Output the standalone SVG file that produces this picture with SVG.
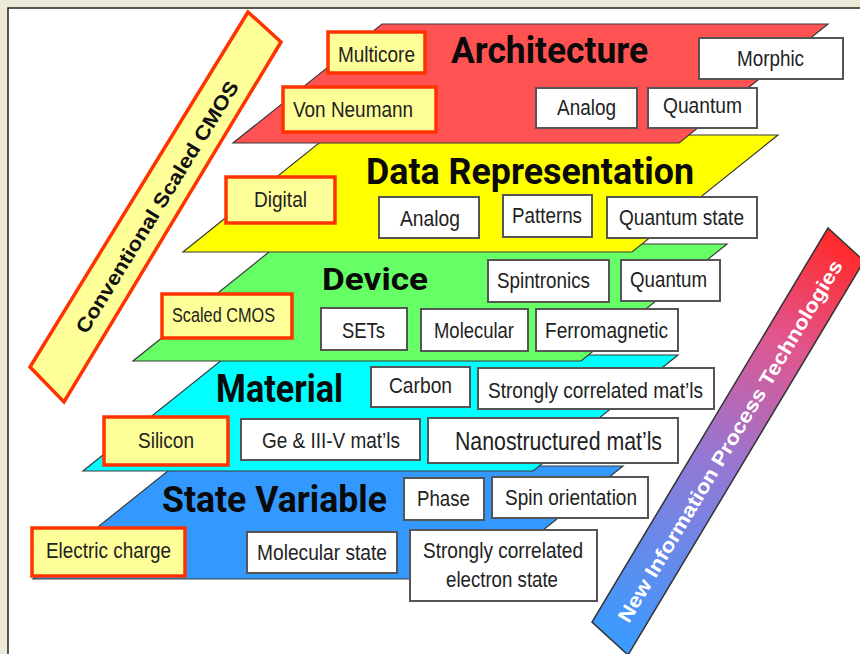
<svg xmlns="http://www.w3.org/2000/svg" width="860" height="654" viewBox="0 0 860 654">
<style>
.layer{stroke:#3a3a3a;stroke-width:1.2}
.title{font-family:Roboto,"Liberation Sans",sans-serif;font-weight:700;fill:#0a0a0a;font-size:36px}
.wbox{fill:#ffffff;stroke:#555555;stroke-width:2}
.ybox{fill:#ffff99;stroke:#ff3300;stroke-width:3.5}
.lbl{font-family:"Liberation Sans",Arial,sans-serif;font-size:22px;fill:#222222;text-anchor:middle}
.bar{font-family:"Liberation Sans",Arial,sans-serif;font-weight:700;font-size:20px;text-anchor:middle}
</style>
<defs>
<linearGradient id="gNew" gradientUnits="userSpaceOnUse" x1="610" y1="640" x2="846" y2="245">
<stop offset="0" stop-color="#3a9bff"/>
<stop offset="0.45" stop-color="#9478d4"/>
<stop offset="0.75" stop-color="#e0568f"/>
<stop offset="1" stop-color="#ff2a2a"/>
</linearGradient>
</defs>
<rect x="0" y="0" width="860" height="654" fill="#ece9d8"/>
<rect x="8" y="8" width="870" height="670" fill="#ffffff" stroke="#222222" stroke-width="1.5"/>

<g id="layers">
<polygon id="layer-state" class="layer" fill="#3399ff" points="174,466 623,466 482,579 33,579"/>
<polygon id="layer-material" class="layer" fill="#00ffff" points="228,355 678,355 533,471 83,471"/>
<polygon id="layer-device" class="layer" fill="#66ff66" points="279,244 727,244 581,361 133,361"/>
<polygon id="layer-data" class="layer" fill="#ffff00" points="329,135 778,135 632,252 183,252"/>
<polygon id="layer-arch" class="layer" fill="#ff5353" points="382,24 828,24 679,143 233,143"/>
</g>

<g id="titles">
<text class="title" x="451" y="63" textLength="197" lengthAdjust="spacingAndGlyphs">Architecture</text>
<text class="title" x="366" y="184" textLength="328" lengthAdjust="spacingAndGlyphs">Data Representation</text>
<text class="title" x="322" y="290" textLength="106" lengthAdjust="spacingAndGlyphs" style="font-size:32px">Device</text>
<text class="title" x="216" y="402" textLength="127" lengthAdjust="spacingAndGlyphs" style="font-size:38px">Material</text>
<text class="title" x="162" y="512" textLength="225" lengthAdjust="spacingAndGlyphs">State Variable</text>
</g>

<g id="connectors"></g>

<g id="multicore"><rect class="ybox" x="328" y="32" width="97" height="41"/><text class="lbl" x="376.5" y="62" textLength="77" lengthAdjust="spacingAndGlyphs">Multicore</text></g>
<g id="von-neumann"><rect class="ybox" x="283" y="87" width="153" height="45"/><text class="lbl" x="353" y="117" textLength="120" lengthAdjust="spacingAndGlyphs">Von Neumann</text></g>
<g id="morphic"><rect class="wbox" x="699" y="38" width="144" height="41"/><text class="lbl" x="770.5" y="66" textLength="67" lengthAdjust="spacingAndGlyphs">Morphic</text></g>
<g id="arch-analog"><rect class="wbox" x="536" y="88" width="101" height="40"/><text class="lbl" x="586.5" y="115" textLength="59" lengthAdjust="spacingAndGlyphs">Analog</text></g>
<g id="arch-quantum"><rect class="wbox" x="648" y="88" width="109" height="40"/><text class="lbl" x="702.5" y="113" textLength="79" lengthAdjust="spacingAndGlyphs">Quantum</text></g>

<g id="digital"><rect class="ybox" x="226" y="177" width="109" height="46"/><text class="lbl" x="280.5" y="207" textLength="53" lengthAdjust="spacingAndGlyphs">Digital</text></g>
<g id="data-analog"><rect class="wbox" x="379" y="197" width="100" height="41"/><text class="lbl" x="430" y="226" textLength="60" lengthAdjust="spacingAndGlyphs">Analog</text></g>
<g id="patterns"><rect class="wbox" x="503" y="195" width="89" height="42"/><text class="lbl" x="547" y="223" textLength="70" lengthAdjust="spacingAndGlyphs">Patterns</text></g>
<g id="quantum-state"><rect class="wbox" x="607" y="197" width="150" height="41"/><text class="lbl" x="681.5" y="225" textLength="125" lengthAdjust="spacingAndGlyphs">Quantum state</text></g>

<g id="scaled-cmos"><rect class="ybox" x="162" y="294" width="130" height="44"/><text class="lbl" x="223.5" y="322" textLength="103" lengthAdjust="spacingAndGlyphs" style="font-size:20px">Scaled CMOS</text></g>
<g id="sets"><rect class="wbox" x="321" y="308" width="86" height="42"/><text class="lbl" x="363.5" y="338" textLength="43" lengthAdjust="spacingAndGlyphs">SETs</text></g>
<g id="molecular"><rect class="wbox" x="421" y="309" width="107" height="42"/><text class="lbl" x="474" y="338" textLength="80" lengthAdjust="spacingAndGlyphs">Molecular</text></g>
<g id="ferromagnetic"><rect class="wbox" x="536" y="309" width="142" height="42"/><text class="lbl" x="606.5" y="338" textLength="123" lengthAdjust="spacingAndGlyphs">Ferromagnetic</text></g>
<g id="spintronics"><rect class="wbox" x="488" y="260" width="121" height="42"/><text class="lbl" x="543.5" y="288" textLength="93" lengthAdjust="spacingAndGlyphs">Spintronics</text></g>
<g id="device-quantum"><rect class="wbox" x="621" y="260" width="99" height="41"/><text class="lbl" x="668.5" y="287" textLength="77" lengthAdjust="spacingAndGlyphs">Quantum</text></g>

<g id="carbon"><rect class="wbox" x="371" y="367" width="99" height="40"/><text class="lbl" x="420.5" y="393" textLength="63" lengthAdjust="spacingAndGlyphs">Carbon</text></g>
<g id="strongly-correlated-matls"><rect class="wbox" x="478" y="368" width="236" height="41"/><text class="lbl" x="595.5" y="398" textLength="215" lengthAdjust="spacingAndGlyphs">Strongly correlated mat’ls</text></g>
<g id="silicon"><rect class="ybox" x="104" y="417" width="124" height="48"/><text class="lbl" x="166" y="448" textLength="56" lengthAdjust="spacingAndGlyphs">Silicon</text></g>
<g id="ge-iii-v"><rect class="wbox" x="241" y="419" width="179" height="41"/><text class="lbl" x="331" y="448" textLength="138" lengthAdjust="spacingAndGlyphs">Ge &amp; III-V mat’ls</text></g>
<g id="nanostructured"><rect class="wbox" x="428" y="418" width="250" height="45"/><text class="lbl" x="558.5" y="450" textLength="207" lengthAdjust="spacingAndGlyphs" style="font-size:25px">Nanostructured mat’ls</text></g>

<g id="phase"><rect class="wbox" x="404" y="478" width="80" height="42"/><text class="lbl" x="443.5" y="506" textLength="53" lengthAdjust="spacingAndGlyphs">Phase</text></g>
<g id="spin-orientation"><rect class="wbox" x="492" y="477" width="156" height="41"/><text class="lbl" x="571" y="505" textLength="132" lengthAdjust="spacingAndGlyphs">Spin orientation</text></g>
<g id="electric-charge"><rect class="ybox" x="32" y="528" width="153" height="48"/><text class="lbl" x="108.5" y="558" textLength="125" lengthAdjust="spacingAndGlyphs">Electric charge</text></g>
<g id="molecular-state"><rect class="wbox" x="247" y="532" width="150" height="41"/><text class="lbl" x="322" y="560" textLength="130" lengthAdjust="spacingAndGlyphs">Molecular state</text></g>
<g id="strongly-correlated-electron"><rect class="wbox" x="410" y="530" width="187" height="71"/><text class="lbl" x="503" y="558" textLength="160" lengthAdjust="spacingAndGlyphs">Strongly correlated</text><text class="lbl" x="502" y="587" textLength="112" lengthAdjust="spacingAndGlyphs">electron state</text></g>

<g id="conventional-scaled-cmos">
<polygon points="248,12 281,42 64,402 30,367" fill="#ffff99" stroke="#ff3300" stroke-width="3.5" stroke-linejoin="miter"/>
<text class="bar" fill="#111111" x="0" y="0" dy="7" textLength="292" lengthAdjust="spacingAndGlyphs" transform="translate(157,207) rotate(-58.4)">Conventional Scaled CMOS</text>
</g>
<g id="new-information-process-technologies">
<polygon points="828,228 864,261 628,655 592,622" fill="url(#gNew)" stroke="#333333" stroke-width="1.5"/>
<text class="bar" fill="#ffffff" x="0" y="0" dy="7" textLength="418" lengthAdjust="spacingAndGlyphs" transform="translate(730,441) rotate(-59.1)">New Information Process Technologies</text>
</g>
</svg>
